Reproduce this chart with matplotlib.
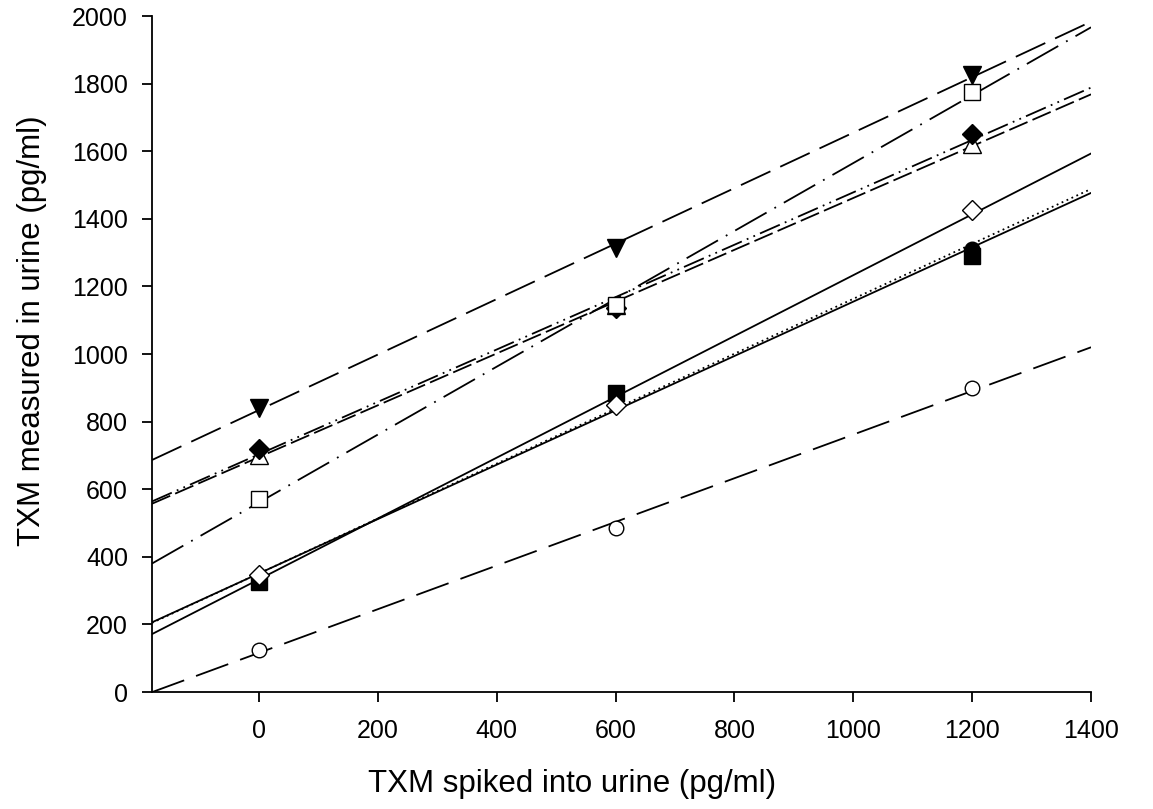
import numpy as np
import matplotlib
matplotlib.use("Agg")
import matplotlib.pyplot as plt

plt.rcParams['font.family'] = ['Liberation Sans', 'DejaVu Sans']

spiked = [0, 600, 1200]
tri_down = [840, 1315, 1825]
sq_open = [570, 1145, 1775]
dia_fill = [720, 1135, 1650]
tri_up = [700, 1145, 1620]
dia_open = [345, 850, 1425]
sq_fill = [325, 885, 1290]
circ_fill = [335, 870, 1310]
circ_open = [125, 485, 900]

xticks = [0, 200, 400, 600, 800, 1000, 1200, 1400]
yticks = [0, 200, 400, 600, 800, 1000, 1200, 1400, 1600, 1800, 2000]

series = [
    (circ_open, 'o', 'white', (0, (19, 7))),
    (sq_fill, 's', 'black', '-'),
    (circ_fill, 'o', 'black', (0, (1, 2))),
    (dia_open, 'D', 'white', '-'),
    (tri_up, '^', 'white', (0, (11, 3))),
    (dia_fill, 'D', 'black', (0, (12, 3, 1, 3, 1, 3))),
    (sq_open, 's', 'white', (0, (20, 5, 1, 5))),
    (tri_down, 'v', 'black', (0, (18, 6))),
]

fig = plt.figure(figsize=(11.53, 8.09), dpi=100)
ax = fig.add_axes([0.1318, 0.1446, 0.8145, 0.8356])
xl = np.array([-180, 1400])
for ys, m, fc, ls in series:
    k, b = np.polyfit(spiked, ys, 1)
    ax.plot(xl, k * xl + b, color='black', lw=1.3, ls=ls, zorder=2)
for ys, m, fc, ls in series:
    ms = {'s': 11, 'o': 10.5, 'D': 10.5}.get(m, 12.5)
    ax.plot(spiked, ys, ls='none', marker=m, ms=ms, mfc=fc, mec='black', mew=1.0, zorder=3)

ax.set_xlim(-180, 1400)
ax.set_ylim(0, 2000)
ax.set_xticks(xticks)
ax.set_yticks(yticks)
ax.spines['top'].set_visible(False)
ax.spines['right'].set_visible(False)
ax.spines['left'].set_linewidth(1.3)
ax.spines['bottom'].set_linewidth(1.3)
ax.tick_params(direction='out', length=7.2, width=1.3, labelsize=18)
ax.tick_params(axis='y', pad=10)
ax.tick_params(axis='x', pad=12)
ax.set_xlabel('TXM spiked into urine (pg/ml)', fontsize=22.5)
ax.set_ylabel('TXM measured in urine (pg/ml)', fontsize=22.5)
ax.xaxis.set_label_coords(0.447, -0.114)
ax.yaxis.set_label_coords(-0.112, 0.534)
fig.savefig('out.png', dpi=100)
